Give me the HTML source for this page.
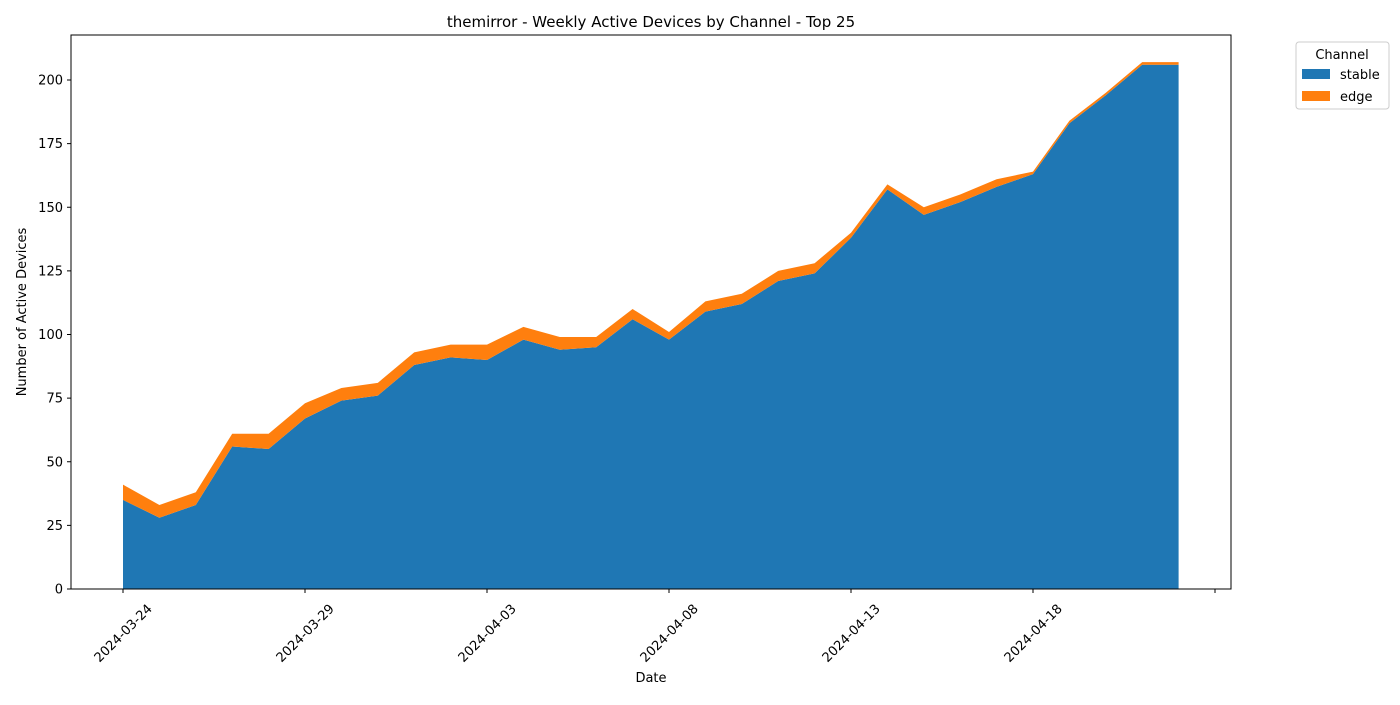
<!DOCTYPE html>
<html><head><meta charset="utf-8"><style>body{margin:0;background:#fff}svg{font-family:"DejaVu Sans","Liberation Sans",sans-serif}</style></head>
<body>
<svg id="chart" width="1400" height="700" xmlns="http://www.w3.org/2000/svg">
<rect width="1400" height="700" fill="#fff"/>
<text x="651" y="27" text-anchor="middle" font-size="15">themirror - Weekly Active Devices by Channel - Top 25</text>
<g id="plot"></g>
<rect x="71" y="35" width="1160" height="554" fill="none" stroke="#000" stroke-width="1"/>
<text x="651" y="682" text-anchor="middle" font-size="13">Date</text>
<text transform="translate(26,312) rotate(-90)" text-anchor="middle" font-size="13">Number of Active Devices</text>
<g>
<rect x="1296" y="42" width="93" height="67" rx="3" fill="#fff" stroke="#ccc"/>
<text x="1342" y="59" text-anchor="middle" font-size="13">Channel</text>
<rect x="1302" y="69" width="28" height="10" fill="#1f77b4"/>
<text x="1340" y="79" font-size="13">stable</text>
<rect x="1302" y="91" width="28" height="10" fill="#ff7f0e"/>
<text x="1340" y="101" font-size="13">edge</text>
</g>
</svg>
<script>
const stable=[35,28,33,56,55,67,74,76,88,91,90,98,94,95,106,98,109,112,121,124,138,157,147,152,158,163,183,194,206,206];
const edge=[6,5,5,5,6,6,5,5,5,5,6,5,5,4,4,3,4,4,4,4,2,2,3,3,3,1,1,1,1,1];
const yTicks=[0,25,50,75,100,125,150,175,200];
const xTickLabels=["2024-03-24","2024-03-29","2024-04-03","2024-04-08","2024-04-13","2024-04-18",""];
const NS="http://www.w3.org/2000/svg";
const X=i=>123+i*36.4;
const Y=v=>589-v*2.545;
const g=document.getElementById('plot');
function mk(t,a){const e=document.createElementNS(NS,t);for(const k in a)e.setAttribute(k,a[k]);g.appendChild(e);return e;}
const totals=stable.map((s,i)=>s+edge[i]);
let ps=stable.map((v,i)=>X(i)+','+Y(v)).join(' ');
let pt=totals.map((v,i)=>X(i)+','+Y(v)).join(' ');
let rs=stable.map((v,i)=>X(i)+','+Y(v)).reverse().join(' ');
const a1=mk('polygon',{points:X(0)+','+Y(0)+' '+ps+' '+X(stable.length-1)+','+Y(0),fill:'#1f77b4'});


const a2=mk('polygon',{points:pt+' '+rs,fill:'#ff7f0e'});


yTicks.forEach(v=>{
 const l=mk('line',{x1:67,x2:71,y1:Y(v),y2:Y(v),stroke:'#000'});
 
 
 const t=mk('text',{x:63,y:Y(v)+4.5,'text-anchor':'end','font-size':13});
 
 
 t.textContent=v;
});
xTickLabels.forEach((s,k)=>{
 const x=X(k*5);
 const l=mk('line',{x1:x,x2:x,y1:589,y2:593,stroke:'#000'});
 
 
 const t=mk('text',{transform:`translate(${x},633) rotate(-45)`,'text-anchor':'middle',dy:'4.5','font-size':13});
 
 
 t.textContent=s;
});
</script>
</body></html>
